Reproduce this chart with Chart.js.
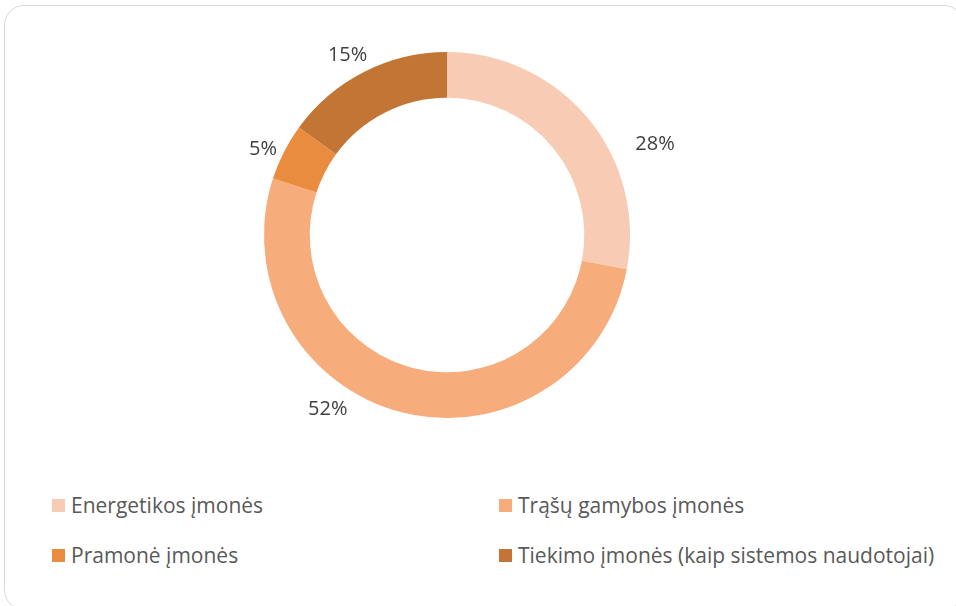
<!DOCTYPE html>
<html lang="lt">
  <head>
    <meta charset="UTF-8">
    <title>Įmonių pasiskirstymas</title>
    <script src="https://cdn.jsdelivr.net/npm/chart.js@4.4.6/dist/chart.umd.min.js"></script>
    <style>
      html, body { margin: 0; padding: 0; background: #fff; }
      body { width: 956px; height: 606px; position: relative; overflow: hidden; font-family: "Open Sans", "Noto Sans", sans-serif; }
      .frame { position: absolute; left: 4px; top: 5px; width: 960px; height: 605px; border: 1px solid #d9d9d9; border-radius: 20px; box-sizing: border-box; }
      #wrap { position: absolute; left: 0; top: 0; width: 894px; height: 470px; }
      .legend { position: absolute; left: 52px; top: 491px; width: 900px; }
      .legend .item { position: absolute; display: flex; align-items: center; color: #595959; font-size: 21px; white-space: nowrap; }
      .legend .box { width: 13px; height: 13px; margin-right: 6px; }
    </style>
  </head>
  <body>
    <div class="frame"></div>
    <div id="wrap"><canvas id="chart"></canvas></div>
    <div class="legend" id="legend"></div>
    <script>
      const categories = [
        "Energetikos įmonės",
        "Trąšų gamybos įmonės",
        "Pramonė įmonės",
        "Tiekimo įmonės (kaip sistemos naudotojai)"
      ];
      const shares = [28, 52, 5, 15];
      const colors = ["#F8CBB4", "#F7AC7B", "#E98C40", "#C27534"];

      // Excel "best fit" moves labels around the ring: angle nudge (deg) and gap from ring (px)
      const labelNudge = [16, 20, -2, -2];
      const labelGap = [44, 28, 20, 22];

      const outsideLabels = {
        id: "outsideLabels",
        afterDatasetsDraw(chart) {
          const ctx = chart.ctx;
          const meta = chart.getDatasetMeta(0);
          ctx.save();
          ctx.font = "20px 'Open Sans', 'Noto Sans', sans-serif";
          ctx.fillStyle = "#404040";
          ctx.textAlign = "center";
          ctx.textBaseline = "middle";
          meta.data.forEach((arc, i) => {
            const mid = (arc.startAngle + arc.endAngle) / 2 + labelNudge[i] * Math.PI / 180;
            const r = arc.outerRadius + labelGap[i];
            const x = arc.x + Math.cos(mid) * r;
            const y = arc.y + Math.sin(mid) * r;
            ctx.fillText(shares[i] + "%", x, y);
          });
          ctx.restore();
        }
      };

      new Chart(document.getElementById("chart"), {
        type: "doughnut",
        data: {
          labels: categories,
          datasets: [{
            data: shares,
            backgroundColor: colors,
            borderWidth: 0
          }]
        },
        options: {
          responsive: true,
          maintainAspectRatio: false,
          animation: false,
          cutout: "75%",
          layout: { padding: 52 },
          plugins: {
            legend: { display: false },
            tooltip: { enabled: false }
          }
        },
        plugins: [outsideLabels]
      });

      // two-column legend like the original
      const legendEl = document.getElementById("legend");
      categories.forEach((name, i) => {
        const item = document.createElement("div");
        item.className = "item";
        item.style.left = (i % 2 === 0 ? 0 : 447) + "px";
        item.style.top = (Math.floor(i / 2) * 50) + "px";
        item.innerHTML = '<span class="box" style="background:' + colors[i] + '"></span>' + name;
        legendEl.appendChild(item);
      });
    </script>
  </body>
</html>
